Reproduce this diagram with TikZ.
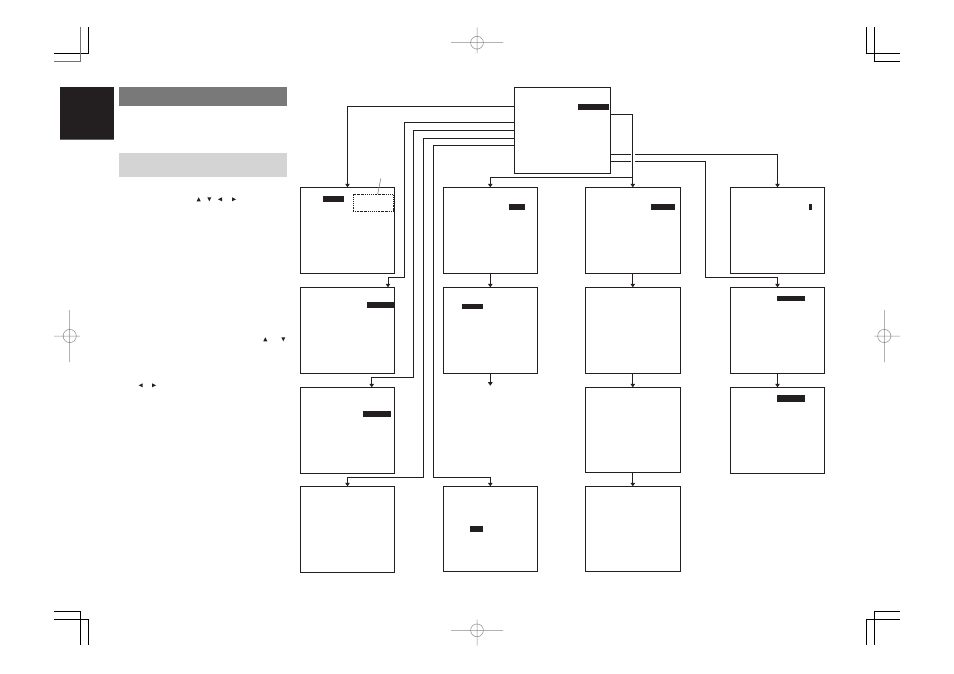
\documentclass[tikz,border=0pt]{standalone}
\usetikzlibrary{arrows.meta,calc}
\definecolor{ink}{HTML}{231F20}
\definecolor{midgray}{HTML}{7A7979}
\definecolor{lightgray}{HTML}{D4D4D4}
\definecolor{reggray}{HTML}{8A8A8A}
\newcommand\triup[2]{\fill[ink] ({#1-2},{#2+2}) -- ({#1+2},{#2+2}) -- (#1,{#2-2}) -- cycle;}
\newcommand\tridown[2]{\fill[ink] ({#1-2},{#2-2}) -- ({#1+2},{#2-2}) -- (#1,{#2+2}) -- cycle;}
\newcommand\trileft[2]{\fill[ink] ({#1+2},{#2-2}) -- ({#1+2},{#2+2}) -- ({#1-2},#2) -- cycle;}
\newcommand\triright[2]{\fill[ink] ({#1-2},{#2-2}) -- ({#1-2},{#2+2}) -- ({#1+2},#2) -- cycle;}
\begin{document}
\begin{tikzpicture}[x=1pt,y=-1pt,
  scr/.style={draw=ink, line width=1pt, minimum width=94.4pt, minimum height=86pt, inner sep=0pt, outer sep=0pt},
  conn/.style={draw=ink, line width=0.9pt, -{Triangle[width=4.5pt,length=3.5pt]}},
  bar/.style={fill=ink},
  crop/.style={draw=black, line width=0.9pt},
  reg/.style={draw=reggray, line width=0.5pt}]
\fill[white] (0,0) rectangle (954,673);
\useasboundingbox (0,0) rectangle (954,673);

% crop marks
\draw[crop] (54,53.3) -- (88.3,53.3) -- (88.3,27);
\draw[crop, draw=black!55] (54,61.3) -- (80.3,61.3) -- (80.3,27);
\draw[crop] (54,611.3) -- (80.3,611.3) -- (80.3,644.5);
\draw[crop] (54,619.3) -- (88.3,619.3) -- (88.3,644.5);
\draw[crop] (900,53.3) -- (866.3,53.3) -- (866.3,27);
\draw[crop] (900,61.3) -- (874.3,61.3) -- (874.3,27);
\draw[crop] (900,611.3) -- (874.3,611.3) -- (874.3,644.5);
\draw[crop] (900,619.3) -- (866.3,619.3) -- (866.3,644.5);

% registration marks
\draw[reg] (69.7,336) circle (6.6) (54,336) -- (80,336) (69.7,310) -- (69.7,362);
\draw[reg] (884.3,336) circle (6.6) (874.3,336) -- (900,336) (884.3,310) -- (884.3,362);
\draw[reg] (477,42.7) circle (6.4) (451,42.7) -- (503,42.7) (477,27.3) -- (477,53.3);
\draw[reg] (477,630.3) circle (6.4) (451,630.3) -- (503,630.3) (477,619.5) -- (477,645.5);

% left column blocks
\fill[ink] (60,87.3) rectangle (114,139.3);
\draw[black!60, line width=0.6pt] (60,139) -- (114,139);
\fill[midgray] (119,87) rectangle (287,105.7);
\fill[lightgray] (119,153) rectangle (287,176.7);

% small key symbols
\triup{198.7}{199.3}
\tridown{209.3}{199.3}
\trileft{220}{199.3}
\triright{234}{199.3}
\triup{265.3}{339.3}
\tridown{283.3}{339.3}
\trileft{140.7}{385.3}
\triright{154}{385.3}

% screens
\node[scr, minimum width=96.4pt, minimum height=85.7pt] (M) at (562.5,130.2) {};
\node[scr] (A1) at (347.5,230.3) {};
\node[scr] (A2) at (347.5,330.3) {};
\node[scr] (A3) at (347.5,430.3) {};
\node[scr] (A4) at (347.5,529.3) {};
\node[scr, minimum width=94pt] (B1) at (490.3,230.3) {};
\node[scr, minimum width=94pt] (B2) at (490.3,330.3) {};
\node[scr, minimum width=94pt, minimum height=85pt] (B4) at (490.3,528.8) {};
\node[scr, minimum width=94.5pt] (C1) at (632.8,230.3) {};
\node[scr, minimum width=94.5pt] (C2) at (632.8,330.3) {};
\node[scr, minimum width=94.5pt, minimum height=85pt] (C3) at (632.8,429.8) {};
\node[scr, minimum width=94.5pt, minimum height=85pt] (C4) at (632.8,528.8) {};
\node[scr] (D1) at (777.5,230.3) {};
\node[scr] (D2) at (777.5,330.3) {};
\node[scr] (D3) at (777.5,430.3) {};

% highlight bars
\fill[bar] (578,104.3) rectangle (609,109.7);
\fill[bar] (323,196) rectangle (344,201.7);
\fill[bar] (367,302.3) rectangle (393.5,308);
\fill[bar] (363,411.3) rectangle (391,416.7);
\fill[bar] (509,204.2) rectangle (525,209.7);
\fill[bar] (462,303.5) rectangle (483,309);
\fill[bar] (470,526) rectangle (482.7,531.7);
\fill[bar] (651,204.3) rectangle (675,209.7);
\fill[bar] (809,203.7) rectangle (812,209.7);
\fill[bar] (777,295.7) rectangle (805,301.3);
\fill[bar] (777,395) rectangle (805,402);

% dotted frame and leader in A1
\draw[ink, line width=0.9pt, dash pattern=on 1.6pt off 1pt on 0.6pt off 1pt] (353.3,194.3) rectangle (393.7,211.7);
\draw[reggray, line width=0.6pt] (377.7,194) -- (380.8,178.5);

% connectors from the top screen, left side
\draw[conn] ($(M.north west)+(0,19)$) -| (A1.north);
\draw[conn] ($(M.north west)+(0,35)$) -| (404.7,277.3) -| ($(A2.north east)+(-6.7,0)$);
\draw[conn] ($(M.north west)+(0,43.4)$) -| (413.7,377.3) -| ($(A3.north east)+(-23,0)$);
\draw[conn] ($(M.north west)+(0,51.4)$) -| (423.7,477.3) -| (A4.north);
\draw[conn] ($(M.north west)+(0,58)$) -| (433.7,477.3) -| (B4.north);

% connectors from the top screen, right side
\draw[conn] ($(M.north east)+(0,66.7)$) -| (D1.north);
\draw[conn] ($(M.north east)+(0,73.7)$) -| (705.7,277.3) -| (D2.north);
\draw[white, line width=3.6pt] (632.8,150) -- (632.8,165);
\draw[conn] ($(M.north east)+(0,27)$) -| (C1.north);
\draw[conn] ($(C1.north)+(0,-10)$) -| (B1.north);

% vertical links
\draw[conn] (B1.south) -- (B2.north);
\coordinate (Bend) at ($(B2.south)+(0,12.4)$);
\draw[conn] (B2.south) -- (Bend);
\draw[conn] (C1.south) -- (C2.north);
\draw[conn] (C2.south) -- (C3.north);
\draw[conn] (C3.south) -- (C4.north);
\draw[conn] (D2.south) -- (D3.north);
\end{tikzpicture}
\end{document}
